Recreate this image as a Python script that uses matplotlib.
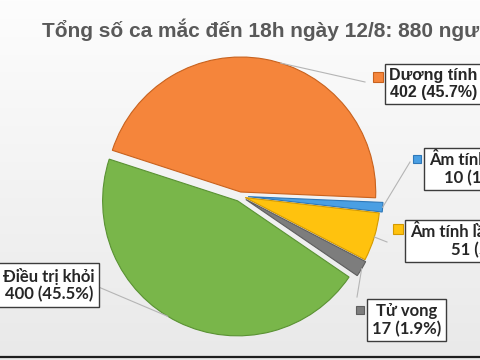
import numpy as np
import matplotlib.pyplot as plt
from matplotlib.colors import LinearSegmentedColormap

# ----------------------------
# Dati
# ----------------------------
title = "Tổng số ca mắc đến 18h ngày 12/8: 880 người"
labels = ["Dương tính", "Âm tính lần 1", "Âm tính lần 2 trở lên", "Tử vong", "Điều trị khỏi"]
values = [402, 10, 51, 17, 400]

colors = ["#F5853B", "#4A9FE3", "#FFC20E", "#7D7D7D", "#79B64A"]
edge_colors = ["#C8621E", "#2F78B8", "#D49A00", "#5E5E5E", "#5A9233"]
explode = [0.03, 0.06, 0.04, 0.05, 0.04]

# ----------------------------
# Layout (pixel, origine in alto a sinistra)
# ----------------------------
W, H = 480, 360
CX, CY, R = 240, 196, 135          # centro e raggio della torta

label_pos = [(389, 84), (429, 169), (410, 241), (372, 320), (3, 285)]   # testo (sx, centro)
label_font = ["Liberation Sans", "Lato", "Lato", "Lato", "Lato"]
label_size = [11.5, 12, 12, 12, 12]
key_pos = [(378, 77), (417, 159), (398, 229), (360, 310), None]           # quadratini colorati
key_size = [7.2, 6.0, 6.5, 5.2, 0]
leader_end = [(365, 82), (410, 162), (387, 242), (357, 297), (82, 280)]
leader_shift = [-7, 0, 0, 0, -5]    # gradi, per staccare la linea dal centro fetta


def px(x, y):
    # pixel -> coordinate dati (raggio torta = 1)
    return (x - CX) / R, (CY - y) / R


fig = plt.figure(figsize=(W / 100, H / 100), dpi=100)

# sfondo sfumato
bg = fig.add_axes([0, 0, 1, 1])
grad = np.linspace(0, 1, 256).reshape(-1, 1)
cmap = LinearSegmentedColormap.from_list("bg", ["#FDFDFD", "#E9E9E9"])
bg.imshow(grad, aspect="auto", cmap=cmap, extent=[0, 1, 0, 1])
bg.axis("off")

ax = fig.add_axes([0, 0, 1, 1])
ax.set_facecolor("none")

wedges, _ = ax.pie(
    values,
    colors=colors,
    explode=explode,
    startangle=162,
    counterclock=False,
    radius=1,
    wedgeprops=dict(linewidth=0.8),
)
for w, ec in zip(wedges, edge_colors):
    w.set_edgecolor(ec)

total = sum(values)
for i, (w, lab, v) in enumerate(zip(wedges, labels, values)):
    # linea guida dal bordo della fetta
    mid = np.deg2rad((w.theta1 + w.theta2) / 2 + leader_shift[i])
    cx, cy = w.center
    x0, y0 = cx + w.r * np.cos(mid), cy + w.r * np.sin(mid)
    x1, y1 = px(*leader_end[i])
    ax.plot([x0, x1], [y0, y1], color="#B5B5B5", lw=0.8, zorder=1)

    # quadratino colore
    if key_pos[i] is not None:
        kx, ky = px(*key_pos[i])
        ax.plot(kx, ky, marker="s", ms=key_size[i], mfc=colors[i],
                mec=edge_colors[i], mew=0.8, zorder=3)

    # etichetta
    tx, ty = px(*label_pos[i])
    ax.text(tx, ty, f"{lab}\n{v} ({v / total * 100:.1f}%)",
            ha="left", va="center", multialignment="center",
            fontsize=label_size[i], fontweight="bold", color="#262626",
            family=[label_font[i], "DejaVu Sans"], linespacing=1.1, zorder=4,
            bbox=dict(boxstyle="square,pad=0.28", fc="white", ec="#3C3C3C", lw=1.0))

ax.set_xlim(-CX / R, (W - CX) / R)
ax.set_ylim(-(H - CY) / R, CY / R)
ax.set_aspect("auto")
ax.axis("off")

fig.text(42 / W, 1 - 37 / H, title, ha="left", va="baseline",
         fontsize=15, fontweight="bold", color="#595959", family="Liberation Sans")

# bordo scuro in basso (screenshot)
fig.add_artist(plt.Line2D([0, 1], [3 / H, 3 / H], color="#1E1E1E", lw=1.6))

fig.savefig("out.png", dpi=100)
